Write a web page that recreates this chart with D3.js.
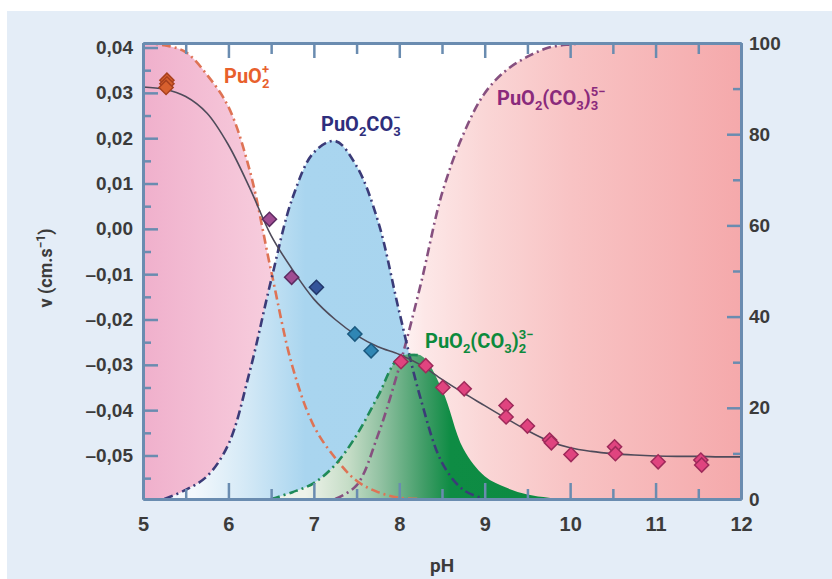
<!DOCTYPE html>
<html>
<head>
<meta charset="utf-8">
<script src="https://cdn.jsdelivr.net/npm/d3@7"></script>
<style>
  body { margin: 0; background: #fff; }
  svg { display: block; font-family: Roboto, "Noto Sans", sans-serif; }
  .tick text { font-weight: 700; fill: #3b3b3b; }
  .axis path, .axis line { stroke: #6a8cb0; }
  .axis path { stroke-width: 3; }
  .axis line { stroke-width: 2.5; }
</style>
</head>
<body>
<svg id="chart" width="832" height="579"></svg>
<script>
// pH grid shared by the species curves and the fitted line
var phGrid = [5, 5.25, 5.5, 5.75, 6, 6.25, 6.5, 6.75, 7, 7.25, 7.5, 7.75, 8, 8.25, 8.5,
              8.75, 9, 9.25, 9.5, 9.75, 10, 10.25, 10.5, 10.75, 11, 11.25, 11.5, 11.75, 12];

// species distribution in % (right axis), null where the curve is not drawn
var pctPuO2 = [100, 99.5, 98, 93, 86, 72, 50, 29, 16, 9, 4, 1.5, 0.3, 0, null,
               null, null, null, null, null, null, null, null, null, null, null, null, null, null];
var pctPuO2CO3 = [null, 0, 2, 5, 12, 28, 48, 66, 76, 78.5, 73, 61, 41, 22, 8,
                  2, 0, null, null, null, null, null, null, null, null, null, null, null, null];
var pctPuO2CO3_2 = [null, null, null, null, null, null, 0, 1.5, 3.5, 7.5, 14, 22.5, 31, 31.5, 24,
                    11, 5, 2.5, 1, 0.3, 0, null, null, null, null, null, null, null, null];
var pctPuO2CO3_3 = [null, null, null, null, null, null, null, null, null, 0, 3, 14, 29, 47, 67,
                    80, 89, 94, 97, 99, 99.7, 100, 100, 100, 100, 100, 100, 100, 100];

// fitted velocity (left axis, cm/s)
var fitV = [0.0313, 0.0308, 0.0292, 0.0255, 0.0185, 0.0090, -0.0015, -0.0090, -0.0155, -0.0200,
            -0.0235, -0.0260, -0.0277, -0.0300, -0.0332, -0.0362, -0.0390, -0.0418, -0.0445,
            -0.0468, -0.0483, -0.0491, -0.0496, -0.0499, -0.0501, -0.0502, -0.0502, -0.0503, -0.0503];

// measured points
var pointPH = [5.28, 5.28, 5.27, 6.48, 6.74, 7.03, 7.48, 7.67, 8.02, 8.31, 8.51, 8.76,
               9.25, 9.25, 9.50, 9.76, 9.78, 10.01, 10.52, 10.53, 11.03, 11.53, 11.54];
var pointV = [0.0328, 0.0320, 0.0312, 0.0021, -0.0107, -0.0129, -0.0232, -0.0269, -0.0293, -0.0302,
              -0.0350, -0.0353, -0.0390, -0.0415, -0.0435, -0.0466, -0.0472, -0.0498, -0.0481,
              -0.0496, -0.0514, -0.0510, -0.0521];
var pointGroup = [0, 0, 0, 1, 1, 2, 3, 3, 4, 4, 4, 4, 4, 4, 4, 4, 4, 4, 4, 4, 4, 4, 4];

// ticks
var xMajor = [5, 6, 7, 8, 9, 10, 11, 12];
var xMinor = [5.5, 6.5, 7.5, 8.5, 9.5, 10.5, 11.5];
var xLabels = ["5", "6", "7", "8", "9", "10", "11", "12"];
var leftMajor = [0.04, 0.03, 0.02, 0.01, 0, -0.01, -0.02, -0.03, -0.04, -0.05];
var leftMinor = [0.035, 0.025, 0.015, 0.005, -0.005, -0.015, -0.025, -0.035, -0.045, -0.055];
var leftLabels = ["0,04", "0,03", "0,02", "0,01", "0,00", "–0,01", "–0,02", "–0,03", "–0,04", "–0,05"];
var rightMajor = [0, 20, 40, 60, 80, 100];
var rightMinor = [10, 30, 50, 70, 90];

var svg = d3.select('#chart');
var W = 832, H = 579;

var x = d3.scaleLinear().domain([5, 12]).range([143, 741]);
var yL = d3.scaleLinear().domain([-0.0596, 0.041]).range([499, 43]);
var yR = d3.scaleLinear().domain([0, 100]).range([499, 43]);

// page background
svg.append('rect').attr('width', W).attr('height', H).attr('fill', '#fff');
svg.append('rect').attr('x', 7).attr('y', 11).attr('width', W - 7).attr('height', H - 11).attr('fill', '#e4edf7');
svg.append('rect').attr('x', 143).attr('y', 43).attr('width', 598).attr('height', 456).attr('fill', '#fff');

var defs = svg.append('defs');
defs.append('clipPath').attr('id', 'plotclip')
    .append('rect').attr('x', 143).attr('y', 43).attr('width', 598).attr('height', 456);

function gradient(id, stops) {
    var g = defs.append('linearGradient').attr('id', id)
        .attr('gradientUnits', 'userSpaceOnUse')
        .attr('x1', x(5)).attr('x2', x(12)).attr('y1', 0).attr('y2', 0);
    stops.forEach(function (s) {
        g.append('stop').attr('offset', (s[0] - 5) / 7).attr('stop-color', s[1]);
    });
}
gradient('gPink', [[5, '#f0b0cc'], [6.5, '#f7cddd'], [12, '#f7cddd']]);
gradient('gBlue', [[5, '#f6f9fd'], [5.6, '#f3f8fc'], [6.2, '#d4e9f6'], [6.9, '#a9d5ef'], [12, '#a6d3ee']]);
gradient('gGreen', [[5, '#eef3ea'], [6.9, '#eef3ea'], [7.4, '#c6ddc7'], [7.8, '#8fc0a0'], [8.3, '#3f9c66'], [8.6, '#0e8c44'], [12, '#0a883e']]);
gradient('gRed', [[5, '#ffffff'], [7.8, '#ffffff'], [8.3, '#fde7e7'], [9, '#fad6d6'], [10, '#f8c3c4'], [12, '#f5a9ab']]);

function series(vals) {
    var out = [];
    phGrid.forEach(function (p, i) { if (vals[i] !== null) out.push([p, vals[i]]); });
    return out;
}

var area = d3.area().curve(d3.curveCatmullRom)
    .x(function (d) { return x(d[0]); })
    .y0(yR(0))
    .y1(function (d) { return yR(d[1]); });
var line = d3.line().curve(d3.curveCatmullRom)
    .x(function (d) { return x(d[0]); })
    .y(function (d) { return yR(d[1]); });

var plot = svg.append('g').attr('clip-path', 'url(#plotclip)');

// lineMax: the dark green fill hides its own dashed border on the right side
var species = [
    { vals: pctPuO2CO3_3, fill: 'url(#gRed)', stroke: '#86507f', lineMax: 12 },
    { vals: pctPuO2, fill: 'url(#gPink)', stroke: '#de7355', lineMax: 12 },
    { vals: pctPuO2CO3, fill: 'url(#gBlue)', stroke: '#3b3b78', lineMax: 12 },
    { vals: pctPuO2CO3_2, fill: 'url(#gGreen)', stroke: '#1f8a58', lineMax: 8.25 }
];

species.forEach(function (s) {
    plot.append('path').datum(series(s.vals)).attr('d', area).attr('fill', s.fill);
});
species.forEach(function (s) {
    var pts = series(s.vals).filter(function (d) { return d[0] <= s.lineMax; });
    plot.append('path').datum(pts).attr('d', line)
        .attr('fill', 'none').attr('stroke', s.stroke)
        .attr('stroke-width', 2.6).attr('stroke-dasharray', '9,4,2,4');
});

// fitted velocity line
var fitLine = d3.line().curve(d3.curveCatmullRom)
    .x(function (d, i) { return x(phGrid[i]); })
    .y(function (d) { return yL(d); });
plot.append('path').datum(fitV).attr('d', fitLine)
    .attr('fill', 'none').attr('stroke', '#4f4b5a').attr('stroke-width', 1.6);

// points
var pointFill = ['#d8602e', '#a04c92', '#34549a', '#2f86b4', '#e0447f'];
var pointStroke = ['#a8401e', '#5c2c62', '#22386c', '#1c5a80', '#9e2a5a'];
var diamond = d3.symbol().type(d3.symbolSquare).size(100);
svg.append('g').selectAll('path')
    .data(pointPH)
    .enter()
    .append('path')
        .attr('d', diamond)
        .attr('transform', function (d, i) {
            return 'translate(' + x(d) + ',' + yL(pointV[i]) + ') rotate(45)';
        })
        .attr('fill', function (d, i) { return pointFill[pointGroup[i]]; })
        .attr('stroke', function (d, i) { return pointStroke[pointGroup[i]]; })
        .attr('stroke-width', 1.5);

// axes
function axis(g, ax) {
    g.attr('class', 'axis').call(ax);
    return g;
}
axis(svg.append('g').attr('transform', 'translate(0,499)'),
    d3.axisBottom(x).tickValues(xMinor).tickSize(-10).tickSizeOuter(0).tickFormat(''));
axis(svg.append('g').attr('transform', 'translate(0,499)'),
    d3.axisBottom(x).tickValues(xMajor).tickSize(-16).tickSizeOuter(0).tickPadding(18)
        .tickFormat(function (d, i) { return xLabels[i]; }))
    .selectAll('text').style('font-size', '20px');
axis(svg.append('g').attr('transform', 'translate(0,43)'),
    d3.axisTop(x).tickValues(xMinor).tickSize(-11).tickSizeOuter(0).tickFormat(''));
axis(svg.append('g').attr('transform', 'translate(0,43)'),
    d3.axisTop(x).tickValues(xMajor).tickSize(-15).tickSizeOuter(0).tickFormat(''));

axis(svg.append('g').attr('transform', 'translate(143,0)'),
    d3.axisLeft(yL).tickValues(leftMinor).tickSize(-8).tickSizeOuter(0).tickFormat(''));
axis(svg.append('g').attr('transform', 'translate(143,0)'),
    d3.axisLeft(yL).tickValues(leftMajor).tickSize(-15).tickSizeOuter(0).tickPadding(10)
        .tickFormat(function (d, i) { return leftLabels[i]; }))
    .selectAll('text').style('font-size', '19px');

axis(svg.append('g').attr('transform', 'translate(741,0)'),
    d3.axisRight(yR).tickValues(rightMinor).tickSize(-8).tickSizeOuter(0).tickFormat(''));
axis(svg.append('g').attr('transform', 'translate(741,0)'),
    d3.axisRight(yR).tickValues(rightMajor).tickSize(-14).tickSizeOuter(0).tickPadding(8))
    .selectAll('text').style('font-size', '19px');

// axis titles
svg.append('text').attr('x', 442).attr('y', 572).attr('text-anchor', 'middle')
    .style('font-weight', 700).style('font-size', '19px').attr('fill', '#3b3b3b').text('pH');

var yt = svg.append('text').attr('transform', 'translate(52,268) rotate(-90)')
    .attr('text-anchor', 'middle')
    .style('font-weight', 700).style('font-size', '18px').attr('fill', '#3b3b3b');
yt.append('tspan').text('v (cm.s');
yt.append('tspan').attr('dy', -7).style('font-size', '12px').text('−1');
yt.append('tspan').attr('dy', 7).text(')');

// species labels, subscripts stacked under superscripts
function formula(px, py, color, parts) {
    var t = svg.append('text').attr('x', px).attr('y', py).attr('fill', color)
        .style('font-weight', 700).style('font-size', '20px');
    var idx = 0, subStart = null, shifted = false;
    parts.forEach(function (p) {
        if (p[1] === 'sup') {
            var sx = t.node().getStartPositionOfChar(subStart).x;
            svg.append('text').attr('x', sx).attr('y', py - 9).attr('fill', color)
                .style('font-weight', 700).style('font-size', '13px').text(p[0]);
            return;
        }
        var ts = t.append('tspan').text(p[0]);
        if (p[1] === 'sub') {
            ts.style('font-size', '13px');
            if (!shifted) ts.attr('dy', 5);
            shifted = true;
            subStart = idx;
        } else if (shifted) {
            ts.attr('dy', -5);
            shifted = false;
        }
        idx += p[0].length;
    });
}
formula(224, 83, '#e8602c', [['PuO'], ['2', 'sub'], ['+', 'sup']]);
formula(321, 131, '#2e2e7c', [['PuO'], ['2', 'sub'], ['CO'], ['3', 'sub'], ['−', 'sup']]);
formula(497, 105, '#8a2a7c', [['PuO'], ['2', 'sub'], ['(CO'], ['3', 'sub'], [')'], ['3', 'sub'], ['5−', 'sup']]);
formula(425, 348, '#0c8a3c', [['PuO'], ['2', 'sub'], ['(CO'], ['3', 'sub'], [')'], ['2', 'sub'], ['3−', 'sup']]);
</script>
</body>
</html>
